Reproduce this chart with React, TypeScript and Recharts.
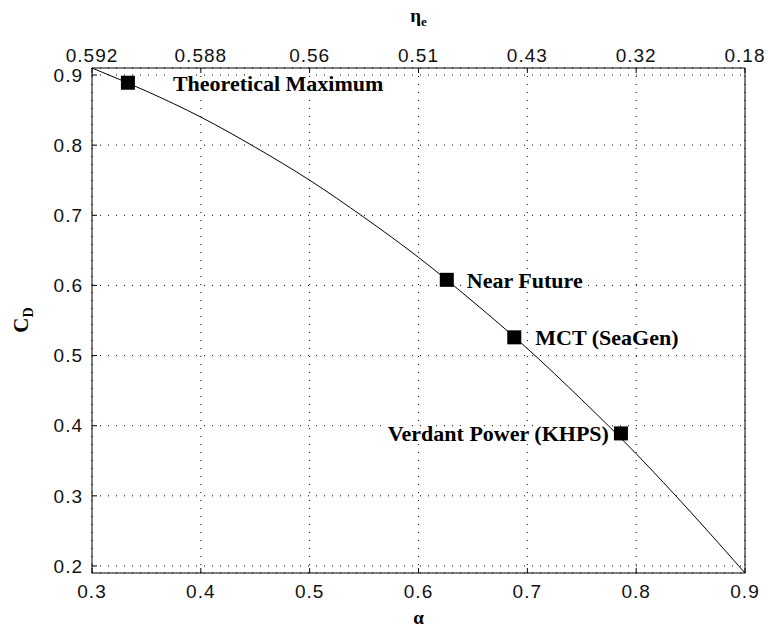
import { ComposedChart, Line, Scatter, XAxis, YAxis, CartesianGrid } from 'recharts';

// bottom axis (alpha) and the matching eta_e labels shown on the top axis
const alphaTicks = [0.3, 0.4, 0.5, 0.6, 0.7, 0.8, 0.9];
const etaLabels = ['0.592', '0.588', '0.56', '0.51', '0.43', '0.32', '0.18'];
const cdTicks = [0.2, 0.3, 0.4, 0.5, 0.6, 0.7, 0.8, 0.9];

// curve
const curveAlpha = [0.3, 0.35, 0.4, 0.45, 0.5, 0.55, 0.6, 0.65, 0.7, 0.75, 0.8, 0.85, 0.9];
const curveCd = [0.91, 0.877, 0.84, 0.797, 0.75, 0.697, 0.64, 0.577, 0.51, 0.437, 0.36, 0.277, 0.19];

// marked devices
const deviceNames = ['Theoretical Maximum', 'Near Future', 'MCT (SeaGen)', 'Verdant Power (KHPS)'];
const deviceAlpha = [0.333, 0.626, 0.688, 0.786];
const deviceCd = [0.889, 0.608, 0.526, 0.389];

const curveData = curveAlpha.map((a, i) => ({ alpha: a, cd: curveCd[i] }));
const deviceData = deviceNames.map((name, i) => ({ name, alpha: deviceAlpha[i], cd: deviceCd[i] }));

const tickFont = "'Liberation Sans', Arial, sans-serif";
const serif = "'Liberation Serif', 'Times New Roman', serif";

// where each label sits relative to its marker
const labelPlacement: Record<string, { dx: number; dy: number; anchor: 'start' | 'end' }> = {
    'Theoretical Maximum': { dx: 45, dy: 1, anchor: 'start' },
    'Near Future': { dx: 20, dy: 0, anchor: 'start' },
    'MCT (SeaGen)': { dx: 21, dy: 0, anchor: 'start' },
    'Verdant Power (KHPS)': { dx: -12, dy: 0, anchor: 'end' },
};

const DeviceMarker = (props: any) => {
    const { cx, cy, payload } = props;
    const place = labelPlacement[payload.name];
    return (
        <g>
            <text
                x={cx + place.dx}
                y={cy + place.dy}
                dy="0.35em"
                textAnchor={place.anchor}
                fontFamily={serif}
                fontWeight="bold"
                fontSize={22}
                fill="#000"
                stroke="#fff"
                strokeWidth={6}
                paintOrder="stroke"
            >
                {payload.name}
            </text>
            <rect x={cx - 7} y={cy - 7} width={14} height={14} fill="#000" />
        </g>
    );
};

const AlphaTitle = (props: any) => {
    const { x, y, width } = props.viewBox;
    return (
        <text x={x + width / 2} y={y + 51} textAnchor="middle" fontFamily={serif} fontWeight="bold" fontSize={19} fill="#000">
            α
        </text>
    );
};

const EtaTitle = (props: any) => {
    const { x, width } = props.viewBox;
    return (
        <text x={x + width / 2} y={22} textAnchor="middle" fontFamily={serif} fontWeight="bold" fontSize={19} fill="#000">
            η<tspan fontSize={13} dy={4}>e</tspan>
        </text>
    );
};

const CdTitle = () => (
    <text x={28} y={320} transform="rotate(-90, 28, 320)" textAnchor="middle" fontFamily={serif} fontWeight="bold" fontSize={21} fill="#000">
        C<tspan fontSize={14} dy={5}>D</tspan>
    </text>
);

export default function App() {
    const tickStyle = { fontFamily: tickFont, fontSize: 19, fill: '#111', letterSpacing: 1 };
    return (
        <div style={{ position: 'absolute', left: 0, top: 0, width: 768, height: 630, background: '#fff' }}>
            <ComposedChart width={768} height={630} data={curveData} margin={{ top: 0, right: 22, bottom: 0, left: 0 }}>
                <CartesianGrid stroke="#000" strokeDasharray="1 7" />
                <XAxis
                    xAxisId={0}
                    dataKey="alpha"
                    type="number"
                    domain={[0.3, 0.9]}
                    ticks={alphaTicks}
                    allowDataOverflow
                    height={57}
                    tickSize={-5}
                    tickMargin={17}
                    stroke="#000"
                    tick={tickStyle}
                    label={<AlphaTitle />}
                />
                <XAxis
                    xAxisId="top"
                    dataKey="alpha"
                    orientation="top"
                    type="number"
                    domain={[0.3, 0.9]}
                    ticks={alphaTicks}
                    allowDataOverflow
                    height={68}
                    tickSize={-5}
                    tickMargin={11}
                    stroke="#000"
                    tick={tickStyle}
                    tickFormatter={(v: number) => etaLabels[alphaTicks.indexOf(v)] ?? ''}
                    label={<EtaTitle />}
                />
                <YAxis
                    yAxisId={0}
                    type="number"
                    domain={[0.19, 0.91]}
                    ticks={cdTicks}
                    allowDataOverflow
                    width={92}
                    tickSize={-5}
                    tickMargin={14}
                    stroke="#000"
                    tick={tickStyle}
                    label={<CdTitle />}
                />
                <YAxis
                    yAxisId="right"
                    orientation="right"
                    type="number"
                    domain={[0.19, 0.91]}
                    allowDataOverflow
                    width={1}
                    tick={false}
                    tickLine={false}
                    stroke="#000"
                />
                {/* invisible copy so the top and right axes get a scale */}
                <Line
                    xAxisId="top"
                    yAxisId="right"
                    data={curveData}
                    dataKey="cd"
                    stroke="none"
                    dot={false}
                    activeDot={false}
                    isAnimationActive={false}
                />
                <Line
                    data={curveData}
                    dataKey="cd"
                    type="monotone"
                    stroke="#000"
                    strokeWidth={1}
                    dot={false}
                    activeDot={false}
                    isAnimationActive={false}
                />
                <Scatter data={deviceData} dataKey="cd" shape={DeviceMarker} isAnimationActive={false} />
            </ComposedChart>
        </div>
    );
}
